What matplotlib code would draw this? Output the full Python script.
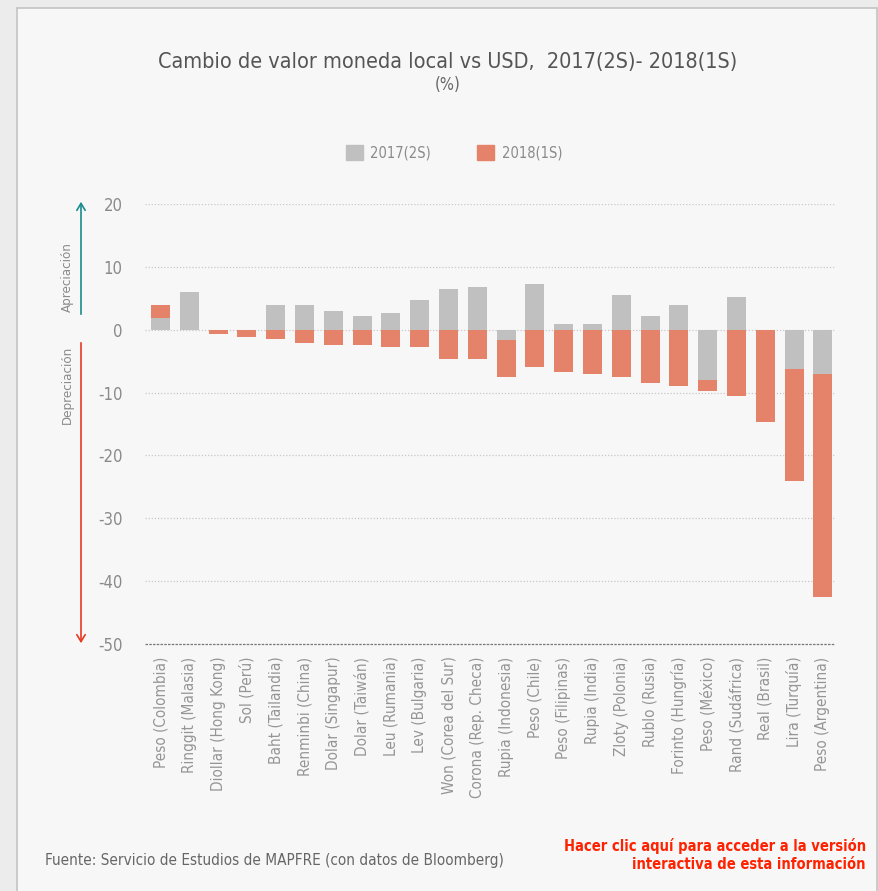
import numpy as np
import matplotlib
matplotlib.use('Agg')
import matplotlib.pyplot as plt
from matplotlib.patches import Rectangle, Patch, FancyArrowPatch

monedas = ["Peso (Colombia)", "Ringgit (Malasia)", "Diollar (Hong Kong)", "Sol (Perú)",
           "Baht (Tailandia)", "Renminbi (China)", "Dolar (Singapur)", "Dolar (Taiwán)",
           "Leu (Rumania)", "Lev (Bulgaria)", "Won (Corea del Sur)", "Corona (Rep. Checa)",
           "Rupia (Indonesia)", "Peso (Chile)", "Peso (Filipinas)", "Rupia (India)",
           "Zloty (Polonia)", "Rublo (Rusia)", "Forinto (Hungría)", "Peso (México)",
           "Rand (Sudáfrica)", "Real (Brasil)", "Lira (Turquía)", "Peso (Argentina)"]

s2017 = [1.8, 6.0, 0.0, 0.0, 4.0, 4.0, 3.0, 2.2, 2.7, 4.8, 6.5, 6.8,
         -1.6, 7.25, 0.9, 0.9, 5.5, 2.2, 3.9, -8.0, 5.2, 0.0, -6.3, -7.0]
s2018 = [2.2, 0.0, -0.7, -1.2, -1.5, -2.1, -2.5, -2.5, -2.8, -2.8, -4.6, -4.6,
         -6.0, -5.9, -6.7, -7.1, -7.6, -8.4, -8.9, -1.7, -10.5, -14.7, -17.7, -35.5]

yticks = [20, 10, 0, -10, -20, -30, -40, -50]

gris = '#c0c0c0'
rojo = '#e4826a'
txt = '#8a8a8a'

plt.rcParams['font.family'] = ['DejaVu Sans']
plt.rcParams['font.stretch'] = 'condensed'
cond = {'family': 'DejaVu Sans', 'stretch': 'condensed'}

fig = plt.figure(figsize=(8.79, 8.91), dpi=100)
fig.patch.set_facecolor('#ececec')
marco = Rectangle((17 / 879, -0.01), 860 / 879, 1.01 - 8 / 891, transform=fig.transFigure,
                  facecolor='#f7f7f7', edgecolor='#c4c4c4', lw=1.2, zorder=-5)
fig.add_artist(marco)

ax = fig.add_axes([145 / 879, 1 - 644 / 891, 690 / 879, 440 / 891])
ax.set_facecolor('none')
ax.set_zorder(2)

x = np.arange(len(monedas))
a = np.array(s2017)
b = np.array(s2018)
base = np.where(np.sign(a) == np.sign(b), a, 0)

ax.bar(x, a, width=0.66, color=gris, zorder=3)
ax.bar(x, b, bottom=base, width=0.66, color=rojo, zorder=3)

ax.set_xlim(-0.54, len(monedas) - 0.58)
ax.set_ylim(-50, 20)
ax.set_yticks(yticks)
ax.set_yticklabels([str(v) for v in yticks], color=txt, fontsize=12)
for v in yticks[:-1]:
    ax.axhline(v, color='#c8c8c8', lw=0.9, ls=(0, (1, 1.5)), zorder=1)
ax.axhline(-50, color='#777777', lw=0.9, ls=(0, (2, 1)), zorder=4, clip_on=False)

for s in ax.spines.values():
    s.set_visible(False)
ax.tick_params(axis='both', length=0)
ax.tick_params(axis='y', pad=16)
ax.set_xticks(x)
ax.set_xticklabels(monedas, rotation=90, color='#959595', fontsize=11, va='top', ha='center')
ax.tick_params(axis='x', pad=9)

# flechas apreciacion / depreciacion
fig.add_artist(FancyArrowPatch((81 / 879, 1 - 317 / 891), (81 / 879, 1 - 199 / 891),
                               transform=fig.transFigure, arrowstyle='->,head_width=3,head_length=5',
                               color='#1a8c8c', lw=1.2, mutation_scale=1))
fig.add_artist(FancyArrowPatch((81 / 879, 1 - 340 / 891), (81 / 879, 1 - 646 / 891),
                               transform=fig.transFigure, arrowstyle='->,head_width=3,head_length=5',
                               color='#e83a22', lw=1.2, mutation_scale=1))
fig.text(67 / 879, 1 - 277 / 891, 'Apreciación', rotation=90, ha='center', va='center',
         color=txt, fontsize=9.5)
fig.text(67 / 879, 1 - 385 / 891, 'Depreciación', rotation=90, ha='center', va='center',
         color=txt, fontsize=9.5)

fig.text(448 / 879, 1 - 62 / 891, 'Cambio de valor moneda local vs USD,  2017(2S)- 2018(1S)',
         ha='center', va='center', color='#555555', fontsize=15.5, **cond)
fig.text(448 / 879, 1 - 85 / 891, '(%)', ha='center', va='center', color='#666666',
         fontsize=12, **cond)

fig.legend(handles=[Patch(color=gris, label='2017(2S)'), Patch(color=rojo, label='2018(1S)')],
           loc='center', bbox_to_anchor=(454 / 879, 1 - 153 / 891), ncol=2, frameon=False,
           handlelength=1.15, handleheight=1.15, handletextpad=0.5, columnspacing=3.2,
           labelcolor=txt, prop={'family': 'DejaVu Sans', 'stretch': 'condensed', 'size': 10.5})

fig.text(45 / 879, 1 - 860 / 891, 'Fuente: Servicio de Estudios de MAPFRE (con datos de Bloomberg)',
         ha='left', va='center', color='#666666', fontsize=11, **cond)
fig.text(866 / 879, 1 - 855 / 891, 'Hacer clic aquí para acceder a la versión\ninteractiva de esta información',
         ha='right', va='center', color='#ff2200', fontsize=10.5, fontweight='bold',
         linespacing=1.25, multialignment='right', **cond)

fig.savefig('out.png', dpi=100, facecolor=fig.get_facecolor())
